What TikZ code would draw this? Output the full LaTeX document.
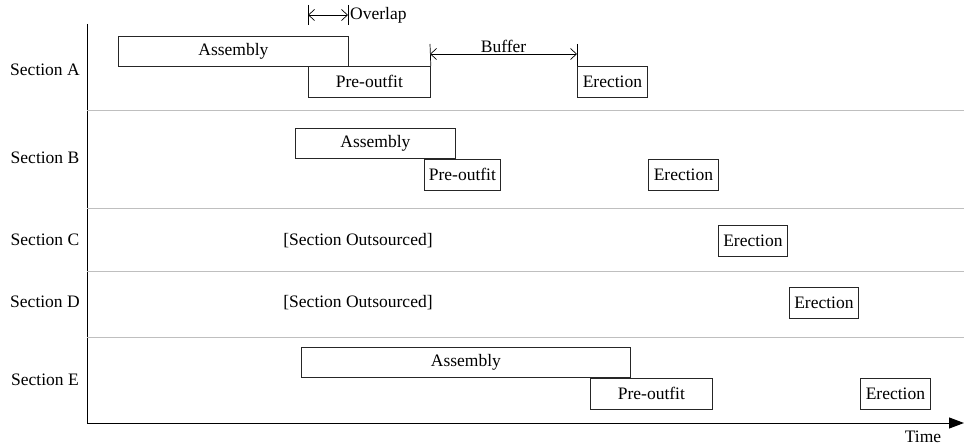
\documentclass[tikz,border=0pt]{standalone}
\usepackage{fontspec}
\setmainfont{Liberation Serif}
\usetikzlibrary{arrows.meta}
\begin{document}
\begin{tikzpicture}[x=1pt,y=-1pt,
  every node/.style={font=\fontsize{17.5}{21}\selectfont},
  task/.style={draw=black!85,line width=0.8pt,inner sep=0pt,anchor=north west},
  sep/.style={draw=black!25,line width=0.9pt},
  axis/.style={draw=black,line width=1pt},
  dim/.style={draw=black,line width=0.7pt},
  dimarrow/.style={dim,{Straight Barb[length=6pt,width=11pt]}-{Straight Barb[length=6pt,width=11pt]}}]
\useasboundingbox (0,0) rectangle (964,446);
% axes
\coordinate (o) at (87,423);
\coordinate (top) at (87,24);
\coordinate (xend) at (964,423);
\draw[axis] (top) -- (o);
\draw[axis,-{Triangle[length=15pt,width=11pt]}] (o) -- (xend);
\node (time) at (923,437) {Time};
% separators
\foreach \y/\n in {110/s1,208/s2,271/s3,337/s4}{
  \coordinate (\n l) at (87,\y);
  \coordinate (\n r) at (964,\y);
  \draw[sep] (\n l) -- (\n r);
}
% section labels
\node (la) at (45,70) {Section A};
\node (lb) at (45,158) {Section B};
\node (lc) at (45,240) {Section C};
\node (ld) at (45,302) {Section D};
\node (le) at (45,380) {Section E};
% Section A
\node[task,minimum width=230pt,minimum height=30pt] (aA) at (118,36) {Assembly};
\node[task,minimum width=122pt,minimum height=31pt] (pA) at (308,66) {Pre-outfit};
\node[task,minimum width=70pt,minimum height=31pt] (eA) at (577,66) {Erection};
% Section B
\node[task,minimum width=160pt,minimum height=30pt] (aB) at (295,128) {Assembly};
\node[task,minimum width=76pt,minimum height=31pt] (pB) at (424,159) {Pre-outfit};
\node[task,minimum width=70pt,minimum height=31pt] (eB) at (648,159) {Erection};
% Section C
\node (oC) at (358,241) {[Section Outsourced]};
\node[task,minimum width=69pt,minimum height=31pt] (eC) at (718,225) {Erection};
% Section D
\node (oD) at (358,303) {[Section Outsourced]};
\node[task,minimum width=69pt,minimum height=31pt] (eD) at (789,287) {Erection};
% Section E
\node[task,minimum width=329pt,minimum height=30pt] (aE) at (301,347) {Assembly};
\node[task,minimum width=122pt,minimum height=31pt] (pE) at (590,378) {Pre-outfit};
\node[task,minimum width=70pt,minimum height=31pt] (eE) at (860,378) {Erection};
% Overlap dimension
\coordinate (ov1t) at (308,5);
\coordinate (ov1b) at (308,25);
\coordinate (ov2t) at (348,5);
\coordinate (ov2b) at (348,25);
\coordinate (ov1) at (308,15);
\coordinate (ov2) at (348,15);
\draw[dim] (ov1t) -- (ov1b);
\draw[dim] (ov2t) -- (ov2b);
\draw[dimarrow] (ov1) -- (ov2);
\node[anchor=west,inner sep=2pt] (ovl) at (ov2) {Overlap};
% Buffer dimension
\coordinate (bf1t) at (430,44);
\coordinate (bf2t) at (577,44);
\coordinate (bf1) at (430,54);
\coordinate (bf2) at (577,54);
\draw[dim] (bf1t) -- (pA.north east);
\draw[dim] (bf2t) -- (eA.north west);
\draw[dimarrow] (bf1) -- (bf2);
\node[anchor=south,inner sep=1pt] (bfl) at (503.5,54) {Buffer};
\end{tikzpicture}
\end{document}
